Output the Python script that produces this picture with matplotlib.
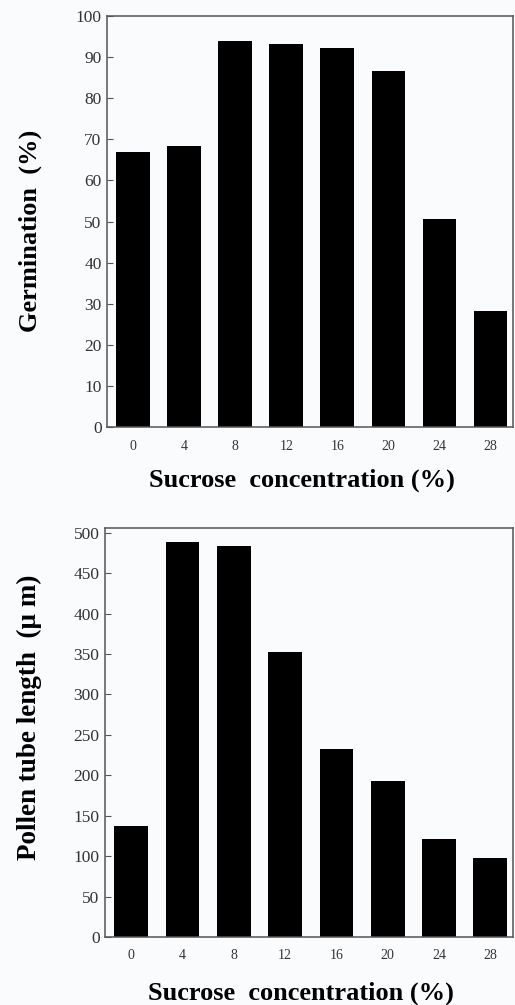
import numpy as np
import matplotlib
matplotlib.use('Agg')
import matplotlib.pyplot as plt

matplotlib.rcParams['font.family'] = ['Liberation Serif', 'DejaVu Serif']

# 数据：蔗糖浓度与萌发率、花粉管长度
sucrose = ['0', '4', '8', '12', '16', '20', '24', '28']
germination = [67, 68.4, 94, 93.2, 92.3, 86.6, 50.7, 28.3]
tube_length = [137, 489, 484, 352, 232, 193, 121, 98]

bg = '#fafbfc'
fig = plt.figure(figsize=(5.15, 10.05), dpi=100, facecolor=bg)

ax1 = fig.add_axes([0.208, 0.575, 0.788, 0.409], facecolor=bg)
ax2 = fig.add_axes([0.204, 0.0677, 0.792, 0.407], facecolor=bg)

x = np.arange(len(sucrose))

for ax, vals, ylim, yticks, ylabel, lsize, ylab_xy, xlab_y in [
        (ax1, germination, (0, 100), range(0, 101, 10), 'Germination  (%)', 19,
         (-0.16, 0.477), -0.10),
        (ax2, tube_length, (0, 506), range(0, 501, 50), 'Pollen tube length  (\u03bc m)', 19.5,
         (-0.154, 0.538), -0.11)]:
    ax.bar(x, vals, width=0.66, color='black')
    ax.set_xlim(-0.51, 7.44)
    ax.set_ylim(*ylim)
    ax.set_yticks(list(yticks))
    ax.set_xticks(x)
    ax.set_xticklabels(sucrose, fontsize=10, color='#333333')
    ax.tick_params(axis='y', direction='in', length=4, width=0.8, labelsize=12.5,
                   colors='#555555', labelcolor='#333333', pad=4)
    ax.tick_params(axis='x', length=0, pad=9)
    for s in ax.spines.values():
        s.set_color('#555555')
        s.set_linewidth(1.1)
    ax.set_xlabel('Sucrose  concentration (%)', fontsize=19, fontweight='bold')
    ax.set_ylabel(ylabel, fontsize=lsize, fontweight='bold')
    ax.xaxis.set_label_coords(0.48, xlab_y)
    ax.yaxis.set_label_coords(*ylab_xy)

fig.savefig('out.png', dpi=100, facecolor=bg)
